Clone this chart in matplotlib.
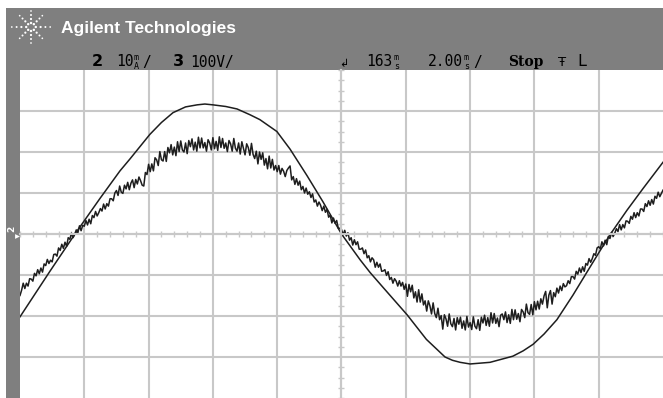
import numpy as np
import matplotlib.pyplot as plt

# --- values, time in ms from the trigger point
# channel 3: line voltage, 100 V/div
v_time = [-10.0, -9.07, -8.29, -7.51, -6.89, -6.58, -5.96, -5.6, -5.24, -4.85,
          -4.49, -4.25, -4.00, -3.6, -3.25, -2.85, -2.54, -2.01, -1.60, -1.07,
          -0.58, 0.0, 0.58, 0.89, 1.29, 2.04, 2.64, 3.22, 3.45, 3.69,
          4.00, 4.31, 4.62, 5.0, 5.33, 5.65, 5.96, 6.3, 6.70, 7.20,
          7.72, 8.04, 8.35, 8.88, 9.38, 10.0]
v_volts = [-202, -91, 0, 87, 154, 183, 243, 272, 296, 310,
           315, 317, 315, 311, 305, 291, 279, 250, 207, 142,
           79, 0, -63, -94, -130, -197, -257, -300, -308, -313,
           -317, -315, -313, -305, -298, -285, -269, -244, -209, -149,
           -82, -41, -2, 58, 111, 175]

# channel 2: current, 10 mA/div, one sample every 0.05 ms
i_time = np.linspace(-10, 10, 401)
i_mA = [-15.0, -13.7, -12.0, -13.3, -12.0, -12.7, -10.9, -11.0, -11.5, -9.6,
        -10.2, -8.7, -9.7, -8.3, -9.3, -7.3, -7.7, -6.2, -7.2, -6.4,
        -6.8, -5.0, -4.9, -5.4, -3.4, -4.0, -2.5, -3.5, -2.0, -3.0,
        -0.9, -1.3, 0.2, -0.9, -0.1, 1.0, 0.3, 2.0, 0.8, 2.1,
        1.9, 3.3, 2.2, 3.6, 2.5, 4.5, 4.0, 5.5, 4.4, 5.2,
        6.2, 5.6, 7.3, 6.1, 7.4, 6.8, 8.6, 8.6, 8.1, 10.0,
        10.6, 9.4, 11.7, 10.2, 9.9, 11.9, 11.0, 12.6, 10.8, 12.4,
        13.2, 11.3, 13.3, 12.2, 13.9, 13.0, 11.9, 11.7, 15.0, 14.5,
        17.0, 15.2, 17.1, 15.4, 18.6, 18.1, 16.7, 20.1, 18.1, 17.8,
        20.1, 17.7, 21.1, 19.8, 21.8, 19.3, 21.2, 19.1, 22.5, 20.1,
        22.7, 20.5, 20.0, 22.2, 19.6, 22.8, 21.3, 23.2, 20.5, 22.4,
        20.2, 23.6, 21.0, 23.4, 21.0, 22.3, 20.2, 23.0, 22.2, 20.5,
        23.5, 20.8, 22.6, 20.4, 23.7, 21.1, 23.3, 20.9, 22.2, 20.1,
        22.8, 22.0, 20.2, 23.3, 20.9, 20.2, 22.2, 19.5, 22.5, 20.9,
        19.3, 22.0, 21.1, 19.2, 22.1, 19.4, 18.4, 20.2, 17.1, 20.0,
        18.2, 19.8, 16.8, 18.4, 15.9, 19.0, 16.1, 18.2, 15.6, 16.7,
        15.2, 16.7, 14.6, 16.0, 15.3, 14.0, 15.5, 16.1, 16.6, 13.2,
        14.0, 12.1, 13.5, 11.9, 12.9, 10.8, 11.6, 10.0, 11.2, 9.7,
        10.3, 8.9, 9.8, 7.8, 8.3, 6.8, 7.8, 7.0, 5.7, 6.8,
        5.3, 6.0, 4.1, 4.6, 2.7, 3.9, 2.6, 3.3, 1.4, 1.4,
        1.1, -0.2, 0.9, -0.5, 0.3, -1.5, -0.9, -2.7, -1.4, -2.6,
        -1.9, -3.7, -3.7, -3.4, -4.8, -3.9, -5.8, -5.3, -6.8, -5.8,
        -6.3, -8.1, -6.9, -8.1, -7.3, -9.1, -9.0, -8.7, -10.1, -9.2,
        -11.1, -10.6, -12.0, -10.9, -11.5, -12.7, -11.4, -12.7, -11.8, -13.5,
        -12.2, -15.2, -12.3, -14.1, -12.5, -15.6, -14.1, -16.6, -13.6, -16.6,
        -14.6, -17.3, -16.3, -18.8, -16.3, -17.5, -19.5, -16.8, -19.4, -20.4,
        -18.1, -20.9, -19.9, -23.2, -19.7, -20.7, -22.5, -19.5, -21.9, -22.6,
        -20.6, -23.4, -20.4, -22.0, -20.3, -23.0, -21.2, -23.4, -20.1, -22.7,
        -21.6, -23.3, -20.2, -22.5, -23.1, -20.9, -23.5, -20.3, -21.7, -19.8,
        -22.3, -20.4, -22.5, -19.2, -21.7, -19.4, -21.8, -20.5, -22.6, -19.8,
        -19.5, -20.9, -19.0, -21.6, -19.7, -21.8, -18.4, -20.9, -18.5, -20.8,
        -19.4, -21.4, -18.4, -19.0, -20.4, -17.1, -19.2, -19.6, -17.2, -19.7,
        -16.5, -18.5, -16.4, -18.3, -15.8, -17.1, -15.1, -14.0, -18.0, -14.9,
        -13.8, -17.1, -14.3, -15.3, -13.2, -14.4, -12.7, -13.8, -12.1, -12.9,
        -12.6, -11.4, -12.1, -10.4, -10.4, -11.0, -9.1, -9.8, -8.3, -9.4,
        -8.0, -9.1, -7.2, -7.6, -6.0, -6.9, -6.0, -4.8, -5.2, -3.4,
        -3.1, -3.6, -1.9, -2.9, -1.5, -2.6, -0.6, -1.1, 0.4, -0.6,
        0.2, 1.3, 0.6, 2.3, 1.0, 2.3, 1.5, 3.2, 3.1, 2.6,
        4.3, 3.6, 5.2, 4.0, 5.2, 4.4, 6.1, 6.1, 5.5, 7.4,
        6.7, 8.1, 7.0, 8.4, 7.3, 9.2, 8.7, 10.2, 9.1, 9.9, 10.7]

ms_div = 2.0
v_div = 100.0
ma_div = 10.0

W, H = 663, 398
gray = '#7f7f7f'
grid_c = '#c8c8c8'
ink = '#1e1e1e'

fig = plt.figure(figsize=(W / 100, H / 100), dpi=100)

# background in pixel coordinates: white border, grey header and left strip
bg = fig.add_axes([0, 0, 1, 1])
bg.set_xlim(0, W)
bg.set_ylim(H, 0)
bg.axis('off')
bg.add_patch(plt.Rectangle((6, 8), W - 6, 62, color=gray, lw=0))
bg.add_patch(plt.Rectangle((6, 8), 14, H - 8, color=gray, lw=0))

# agilent spark logo
cx, cy = 31, 27
for a in range(0, 360, 45):
    r = np.array([4, 8, 12, 16]) * (1.2 if a % 180 == 0 else 1.0)
    bg.scatter(cx + r * np.cos(np.radians(a)), cy + r * np.sin(np.radians(a)),
               s=[3, 2.5, 2, 1.5], c='white', lw=0)
bg.text(61, 28, 'Agilent Technologies', color='white', fontsize=12.5,
        fontweight='bold', family='Liberation Sans', va='center')

# status line
ty = 62
mono = 'DejaVu Sans Mono'
def unit(x, top, bottom):
    bg.text(x, 57, top, fontsize=6, family=mono, va='center')
    bg.text(x, 66.5, bottom, fontsize=6, family=mono, va='center')

bg.text(92, ty, '2', fontsize=11.5, fontweight='bold', va='center', color='black')
bg.text(116, ty, '10', fontsize=10.5, family=mono, va='center')
unit(134, 'm', 'A')
bg.text(142, ty, '/', fontsize=10.5, family=mono, va='center')
bg.text(173, ty, '3', fontsize=11.5, fontweight='bold', va='center', color='black')
bg.text(190, ty, '100V/', fontsize=10.5, family=mono, va='center')
bg.text(339, ty + 2, '\u21b2', fontsize=8, va='center')
bg.text(366, ty, '163', fontsize=10.5, family=mono, va='center')
unit(394, 'm', 's')
bg.text(428, ty, '2.00', fontsize=10.5, family=mono, va='center')
unit(464, 'm', 's')
bg.text(473, ty, '/', fontsize=10.5, family=mono, va='center')
bg.text(508, ty, 'Stop', fontsize=10, fontweight='bold', va='center',
        family='DejaVu Serif')
bg.text(558, ty, '\u0166', fontsize=9.5, va='center')
bg.text(577, ty, 'L', fontsize=11.5, va='center')

# channel 2 ground marker on the left strip
bg.text(12, 229, '2', fontsize=6.5, fontweight='bold', color='white',
        ha='center', va='center', rotation=90)
bg.scatter([17], [236], marker='>', s=12, c='white', lw=0)

# scope graticule
ax = fig.add_axes([20 / W, 0, (W - 20) / W, (H - 70) / H])
ax.set_xlim(-5, 5)
ax.set_ylim(4 - (H - 70) / 41.6, 4)
ax.set_xticks(range(-4, 5))
ax.set_yticks(range(-3, 4))
ax.set_xticks(np.arange(-5, 5.01, 0.2), minor=True)
ax.set_yticks(np.arange(-4, 4.01, 0.25), minor=True)
ax.grid(True, which='major', color=grid_c, lw=1.5)
ax.set_axisbelow(True)
for s in ['top', 'right']:
    ax.spines[s].set_visible(False)
for s in ['left', 'bottom']:
    ax.spines[s].set_position(('data', 0))
    ax.spines[s].set_color(grid_c)
    ax.spines[s].set_linewidth(1.5)
ax.tick_params(which='major', length=0, labelbottom=False, labelleft=False)
ax.tick_params(which='minor', direction='inout', length=5, width=1, color=grid_c)

ax.plot(np.array(v_time) / ms_div, np.array(v_volts) / v_div, color=ink, lw=1.1)
ax.plot(i_time / ms_div, np.array(i_mA) / ma_div, color=ink, lw=1.1)

plt.savefig('out.png', dpi=100)
